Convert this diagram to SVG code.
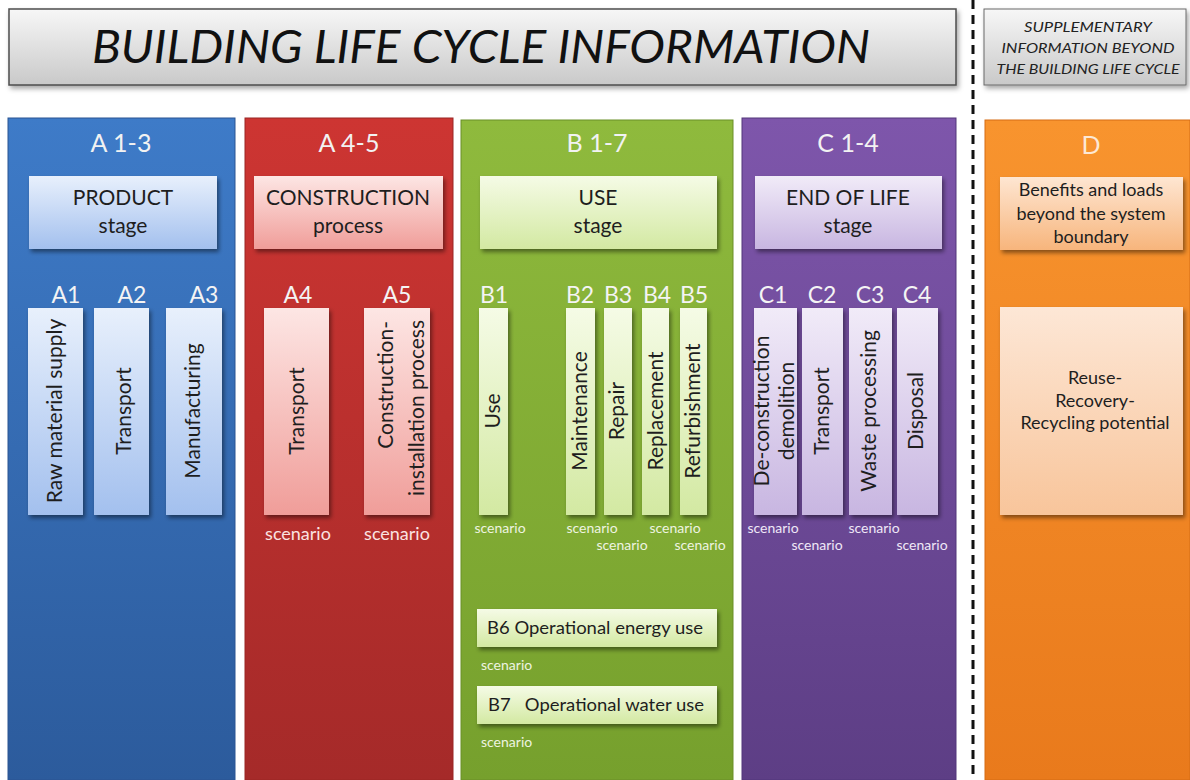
<svg xmlns="http://www.w3.org/2000/svg" width="1190" height="780" viewBox="0 0 1190 780">
<defs>
<linearGradient id="gTitle" x1="0" y1="0" x2="0" y2="1"><stop offset="0" stop-color="#f7f7f7"/><stop offset="1" stop-color="#c9c9c9"/></linearGradient>
<linearGradient id="gBlue" x1="0" y1="0" x2="0" y2="1"><stop offset="0" stop-color="#3e7bc8"/><stop offset="1" stop-color="#2c5b9c"/></linearGradient>
<linearGradient id="gRed" x1="0" y1="0" x2="0" y2="1"><stop offset="0" stop-color="#cd3532"/><stop offset="1" stop-color="#a52a29"/></linearGradient>
<linearGradient id="gGreen" x1="0" y1="0" x2="0" y2="1"><stop offset="0" stop-color="#8fba3d"/><stop offset="1" stop-color="#76a02d"/></linearGradient>
<linearGradient id="gPurple" x1="0" y1="0" x2="0" y2="1"><stop offset="0" stop-color="#7e56ab"/><stop offset="1" stop-color="#5d3e85"/></linearGradient>
<linearGradient id="gOrange" x1="0" y1="0" x2="0" y2="1"><stop offset="0" stop-color="#f8942e"/><stop offset="1" stop-color="#e97a1c"/></linearGradient>
<linearGradient id="lBlue" x1="0" y1="0" x2="0" y2="1"><stop offset="0" stop-color="#e8f0fc"/><stop offset="1" stop-color="#a3c0ee"/></linearGradient>
<linearGradient id="lRed" x1="0" y1="0" x2="0" y2="1"><stop offset="0" stop-color="#fde6e4"/><stop offset="1" stop-color="#f09d99"/></linearGradient>
<linearGradient id="lGreen" x1="0" y1="0" x2="0" y2="1"><stop offset="0" stop-color="#f5fbe6"/><stop offset="1" stop-color="#d3e9a2"/></linearGradient>
<linearGradient id="lPurple" x1="0" y1="0" x2="0" y2="1"><stop offset="0" stop-color="#f1ebf8"/><stop offset="1" stop-color="#c8b6e1"/></linearGradient>
<linearGradient id="lOrange" x1="0" y1="0" x2="0" y2="1"><stop offset="0" stop-color="#fee6d2"/><stop offset="1" stop-color="#f7b57c"/></linearGradient>
<linearGradient id="lOrange2" x1="0" y1="0" x2="0" y2="1"><stop offset="0" stop-color="#fde7d6"/><stop offset="1" stop-color="#f8c59b"/></linearGradient>
<filter id="sh" x="-20%" y="-20%" width="140%" height="140%"><feDropShadow dx="2" dy="3" stdDeviation="2" flood-color="#000" flood-opacity="0.45"/></filter>
<filter id="shT" x="-5%" y="-20%" width="110%" height="150%"><feDropShadow dx="2" dy="3" stdDeviation="2.5" flood-color="#000" flood-opacity="0.35"/></filter>
</defs>
<style>
text{font-family:Lato,"Open Sans","Liberation Sans",sans-serif}
.ttl{font-size:46px;font-style:italic;fill:#111;text-anchor:middle}
.sup{font-size:14px;font-style:italic;fill:#222;text-anchor:middle}
.hd{font-size:25px;fill:#f2f2f2;text-anchor:middle}
.sub{font-size:23px;fill:#f4f4f4;text-anchor:middle}
.st{font-size:21px;fill:#1e1e1e;text-anchor:middle}
.vt{font-size:21px;fill:#1e1e1e;text-anchor:middle}
.bx{font-size:18px;fill:#1e1e1e;text-anchor:middle}
.sc{font-size:14px;fill:#eef4e0;text-anchor:middle}
.scr{font-size:18px;fill:#fbe3e1;text-anchor:middle}
.scp{font-size:14px;fill:#efe8f7;text-anchor:middle}
.box{filter:url(#sh)}
</style>
<rect width="1190" height="780" fill="#ffffff"/>

<g id="title">
<rect x="9" y="9" width="947" height="76" fill="url(#gTitle)" stroke="#4d4d4d" stroke-width="1.5" filter="url(#shT)"/>
<text class="ttl" x="481" y="63" textLength="778" lengthAdjust="spacingAndGlyphs">BUILDING LIFE CYCLE INFORMATION</text>
</g>

<g id="supplementary">
<rect x="984" y="9" width="202" height="76" fill="url(#gTitle)" stroke="#6a6a6a" stroke-width="1" filter="url(#shT)"/>
<text class="sup" x="1088" y="32" textLength="128" lengthAdjust="spacingAndGlyphs">SUPPLEMENTARY</text>
<text class="sup" x="1088" y="53" textLength="173" lengthAdjust="spacingAndGlyphs">INFORMATION BEYOND</text>
<text class="sup" x="1088" y="74" textLength="183" lengthAdjust="spacingAndGlyphs">THE BUILDING LIFE CYCLE</text>
</g>

<g id="separator">
<line x1="973" y1="0" x2="973" y2="780" stroke="#111" stroke-width="3" stroke-dasharray="9 6"/>
</g>

<g id="colA13">
<rect x="8" y="118" width="227" height="662" fill="url(#gBlue)" stroke="#2a5592" stroke-width="1"/>
<text class="hd" x="121" y="152">A 1-3</text>
<rect class="box" x="29" y="176" width="188" height="73" fill="url(#lBlue)"/>
<text class="st" x="123" y="205">PRODUCT</text>
<text class="st" x="123" y="233">stage</text>
<text class="sub" x="66" y="303">A1</text>
<text class="sub" x="132" y="303">A2</text>
<text class="sub" x="204" y="303">A3</text>
<rect class="box" x="28" y="308" width="55" height="207" fill="url(#lBlue)"/>
<rect class="box" x="94" y="308" width="55" height="207" fill="url(#lBlue)"/>
<rect class="box" x="166" y="308" width="56" height="207" fill="url(#lBlue)"/>
<text class="vt" transform="translate(62,411) rotate(-90)">Raw material supply</text>
<text class="vt" transform="translate(131,411) rotate(-90)">Transport</text>
<text class="vt" transform="translate(200,411) rotate(-90)">Manufacturing</text>
</g>

<g id="colA45">
<rect x="245" y="118" width="208" height="662" fill="url(#gRed)" stroke="#9a2624" stroke-width="1"/>
<text class="hd" x="349" y="152">A 4-5</text>
<rect class="box" x="254" y="176" width="189" height="73" fill="url(#lRed)"/>
<text class="st" x="348" y="205">CONSTRUCTION</text>
<text class="st" x="348" y="233">process</text>
<text class="sub" x="298" y="303">A4</text>
<text class="sub" x="397" y="303">A5</text>
<rect class="box" x="264" y="308" width="65" height="207" fill="url(#lRed)"/>
<rect class="box" x="364" y="308" width="66" height="207" fill="url(#lRed)"/>
<text class="vt" transform="translate(304,411) rotate(-90)">Transport</text>
<text class="vt" style="text-anchor:end" transform="translate(393,321) rotate(-90)">Construction-</text>
<text class="vt" style="text-anchor:end" transform="translate(424,320) rotate(-90)">installation process</text>
<text class="scr" x="298" y="540">scenario</text>
<text class="scr" x="397" y="540">scenario</text>
</g>

<g id="colB17">
<rect x="461" y="120" width="272" height="660" fill="url(#gGreen)" stroke="#6a8f28" stroke-width="1"/>
<text class="hd" x="597" y="152">B 1-7</text>
<rect class="box" x="480" y="176" width="237" height="73" fill="url(#lGreen)"/>
<text class="st" x="598" y="205">USE</text>
<text class="st" x="598" y="233">stage</text>
<text class="sub" x="494" y="303">B1</text>
<text class="sub" x="580" y="303">B2</text>
<text class="sub" x="618" y="303">B3</text>
<text class="sub" x="657" y="303">B4</text>
<text class="sub" x="694" y="303">B5</text>
<rect class="box" x="479" y="308" width="29" height="207" fill="url(#lGreen)"/>
<rect class="box" x="566" y="308" width="29" height="207" fill="url(#lGreen)"/>
<rect class="box" x="604" y="308" width="28" height="207" fill="url(#lGreen)"/>
<rect class="box" x="642" y="308" width="27" height="207" fill="url(#lGreen)"/>
<rect class="box" x="680" y="308" width="27" height="207" fill="url(#lGreen)"/>
<text class="vt" transform="translate(500,411) rotate(-90)">Use</text>
<text class="vt" transform="translate(587,411) rotate(-90)">Maintenance</text>
<text class="vt" transform="translate(624,411) rotate(-90)">Repair</text>
<text class="vt" transform="translate(663,411) rotate(-90)">Replacement</text>
<text class="vt" transform="translate(700,411) rotate(-90)">Refurbishment</text>
<text class="sc" x="500" y="533">scenario</text>
<text class="sc" x="592" y="533">scenario</text>
<text class="sc" x="675" y="533">scenario</text>
<text class="sc" x="622" y="550">scenario</text>
<text class="sc" x="700" y="550">scenario</text>
<rect class="box" x="477" y="609" width="240" height="38" fill="url(#lGreen)"/>
<text class="bx" x="595" y="634" textLength="216" lengthAdjust="spacingAndGlyphs">B6 Operational energy use</text>
<text class="sc" x="481" y="670" style="text-anchor:start">scenario</text>
<rect class="box" x="477" y="686" width="240" height="38" fill="url(#lGreen)"/>
<text class="bx" x="596" y="711" style="white-space:pre" textLength="216" lengthAdjust="spacingAndGlyphs">B7   Operational water use</text>
<text class="sc" x="481" y="747" style="text-anchor:start">scenario</text>
</g>

<g id="colC14">
<rect x="742" y="118" width="214" height="662" fill="url(#gPurple)" stroke="#52367a" stroke-width="1"/>
<text class="hd" x="848" y="152">C 1-4</text>
<rect class="box" x="755" y="176" width="187" height="73" fill="url(#lPurple)"/>
<text class="st" x="848" y="205">END OF LIFE</text>
<text class="st" x="848" y="233">stage</text>
<text class="sub" x="773" y="303">C1</text>
<text class="sub" x="822" y="303">C2</text>
<text class="sub" x="870" y="303">C3</text>
<text class="sub" x="917" y="303">C4</text>
<rect class="box" x="754" y="308" width="43" height="207" fill="url(#lPurple)"/>
<rect class="box" x="802" y="308" width="41" height="207" fill="url(#lPurple)"/>
<rect class="box" x="849" y="308" width="43" height="207" fill="url(#lPurple)"/>
<rect class="box" x="897" y="308" width="41" height="207" fill="url(#lPurple)"/>
<text class="vt" transform="translate(769,411) rotate(-90)">De-construction</text>
<text class="vt" transform="translate(794,411) rotate(-90)">demolition</text>
<text class="vt" transform="translate(829,411) rotate(-90)">Transport</text>
<text class="vt" transform="translate(876,411) rotate(-90)">Waste processing</text>
<text class="vt" transform="translate(923,411) rotate(-90)">Disposal</text>
<text class="scp" x="773" y="533">scenario</text>
<text class="scp" x="874" y="533">scenario</text>
<text class="scp" x="817" y="550">scenario</text>
<text class="scp" x="922" y="550">scenario</text>
</g>

<g id="colD">
<rect x="985" y="120" width="205" height="660" fill="url(#gOrange)" stroke="#d56d14" stroke-width="1"/>
<text class="hd" x="1091" y="154" style="fill:#fde8d4">D</text>
<rect class="box" x="1000" y="177" width="183" height="73" fill="url(#lOrange)"/>
<text class="bx" x="1091" y="196">Benefits and loads</text>
<text class="bx" x="1091" y="220">beyond the system</text>
<text class="bx" x="1091" y="243">boundary</text>
<rect class="box" x="1000" y="307" width="183" height="208" fill="url(#lOrange2)"/>
<text class="bx" x="1095" y="384">Reuse-</text>
<text class="bx" x="1095" y="407">Recovery-</text>
<text class="bx" x="1095" y="429">Recycling potential</text>
</g>
</svg>
